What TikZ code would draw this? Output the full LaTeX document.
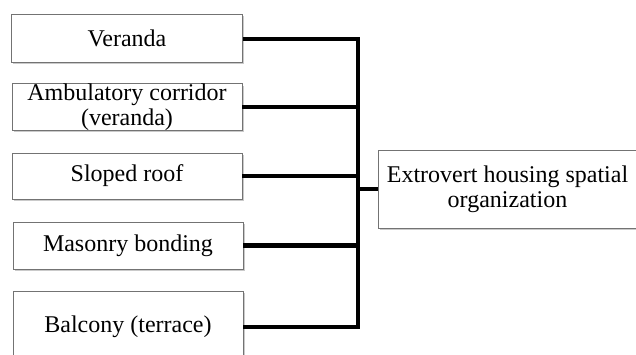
\documentclass[tikz,border=0pt]{standalone}
\usepackage{fontspec}
\setmainfont{Liberation Serif}
\usetikzlibrary{shadows}
\begin{document}
\begin{tikzpicture}[x=1pt,y=-1pt,
  itembox/.style={draw=black!55, line width=0.7pt, fill=white,
    drop shadow={shadow xshift=1.5pt, shadow yshift=-2pt, opacity=0.35, fill=black!60},
    align=center, inner sep=0pt, font=\fontsize{24}{25}\selectfont},
  link/.style={line width=4.8pt, black}]
\useasboundingbox (0,0) rectangle (636,355);

% left-hand feature boxes
\node[itembox, minimum width=231pt, minimum height=48pt] (b1) at (127,38) {Veranda};
\node[itembox, minimum width=230pt, minimum height=46pt] (b2) at (127,107) {Ambulatory corridor\\(veranda)};
\node[itembox, minimum width=230pt, minimum height=46pt] (b3) at (127,176) {Sloped roof};
\node[itembox, minimum width=230pt, minimum height=47pt] (b4) at (128,245.5) {Masonry bonding};
\node[itembox, minimum width=230pt, minimum height=72pt] (b5) at (128,327) {Balcony (terrace)};

% right-hand summary box
\node[itembox, minimum width=259pt, minimum height=78pt] (res) at (507.5,189) {Extrovert housing spatial\\organization};

% collecting bar
\coordinate (top) at (358,39);
\coordinate (bot) at (358,327);
\coordinate (mid) at (358,189);

\draw[link] (b1.east |- top) -- (top);
\draw[link] (b2.east) -- (b2.east -| mid);
\draw[link] (b3.east) -- (b3.east -| mid);
\draw[link] (b4.east) -- (b4.east -| mid);
\draw[link] (b5.east |- bot) -- (bot);
\draw[link, line cap=rect] (top) -- (bot);
\draw[link] (mid) -- (res.west);
\end{tikzpicture}
\end{document}
